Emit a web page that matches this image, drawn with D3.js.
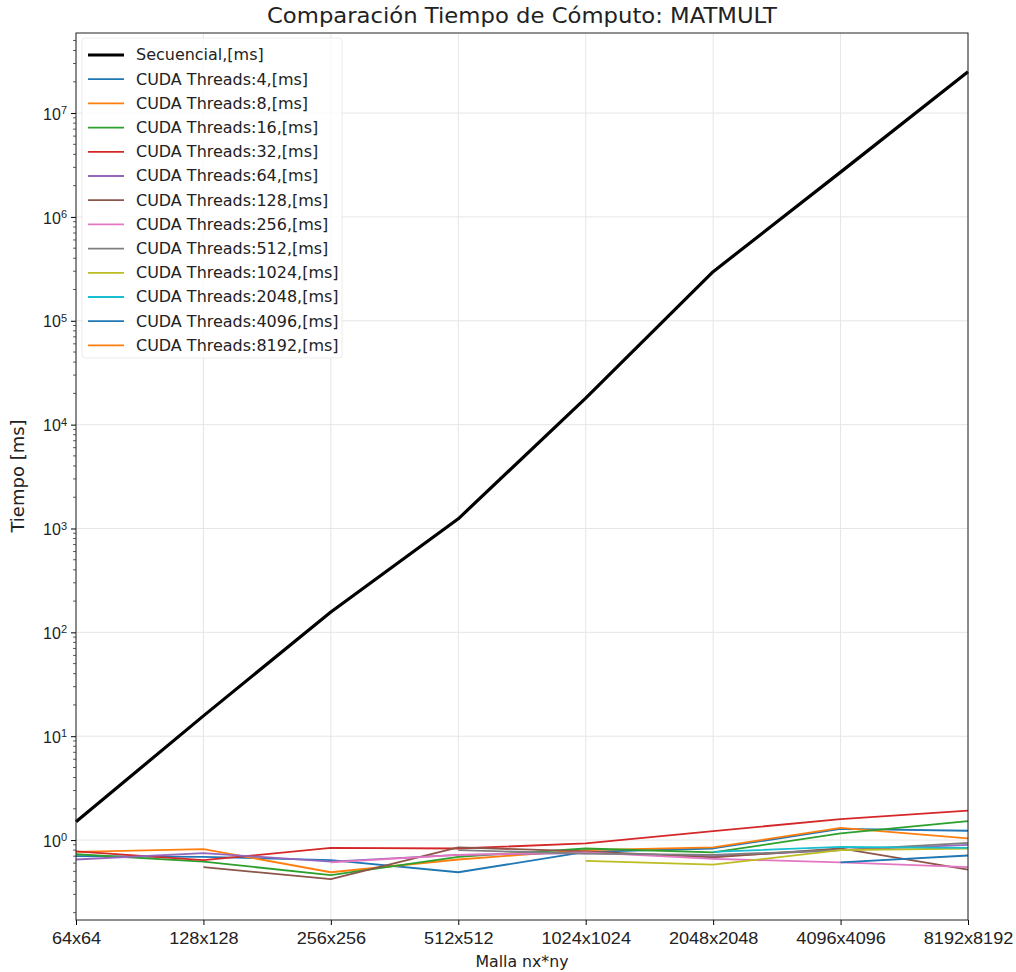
<!DOCTYPE html>
<html>
<head>
<meta charset="utf-8">
<script src="https://cdn.jsdelivr.net/npm/d3@7"></script>
<style>
  body { margin: 0; background: #fff; }
  svg { font-family: "DejaVu Sans", sans-serif; }
</style>
</head>
<body>
<svg id="chart" width="1016" height="972"></svg>
<script>
const categories = ["64x64", "128x128", "256x256", "512x512", "1024x1024", "2048x2048", "4096x4096", "8192x8192"];

const secuencial = [1.5, 15.7, 157, 1240, 18000, 297000, 2700000, 25000000];
const cuda4 = [0.70, 0.69, 0.64, 0.49, 0.77, 0.83, 1.28, 1.23];
const cuda8 = [0.77, 0.82, 0.49, 0.65, 0.80, 0.85, 1.31, 1.04];
const cuda16 = [0.73, 0.62, 0.46, 0.69, 0.83, 0.76, 1.16, 1.52];
const cuda32 = [0.78, 0.64, 0.84, 0.83, 0.93, 1.22, 1.59, 1.92];
const cuda64 = [0.65, 0.75, 0.62, 0.72, 0.75, 0.70, 0.80, 0.90];
const cuda128 = [null, 0.55, 0.42, 0.85, 0.78, 0.68, 0.83, 0.52];
const cuda256 = [null, null, 0.61, 0.72, 0.76, 0.66, 0.61, 0.55];
const cuda512 = [null, null, null, 0.80, 0.74, 0.72, 0.80, 0.94];
const cuda1024 = [null, null, null, null, 0.63, 0.58, 0.80, 0.83];
const cuda2048 = [null, null, null, null, null, 0.77, 0.86, 0.84];
const cuda4096 = [null, null, null, null, null, null, 0.61, 0.71];
const cuda8192 = [null, null, null, null, null, null, null, 1.0];

const seriesNames = ["Secuencial,[ms]", "CUDA Threads:4,[ms]", "CUDA Threads:8,[ms]", "CUDA Threads:16,[ms]",
  "CUDA Threads:32,[ms]", "CUDA Threads:64,[ms]", "CUDA Threads:128,[ms]", "CUDA Threads:256,[ms]",
  "CUDA Threads:512,[ms]", "CUDA Threads:1024,[ms]", "CUDA Threads:2048,[ms]", "CUDA Threads:4096,[ms]",
  "CUDA Threads:8192,[ms]"];
const seriesValues = [secuencial, cuda4, cuda8, cuda16, cuda32, cuda64, cuda128, cuda256,
  cuda512, cuda1024, cuda2048, cuda4096, cuda8192];
const seriesColors = ["#000000", "#1f77b4", "#ff7f0e", "#2ca02c", "#d62728", "#9467bd", "#8c564b",
  "#e377c2", "#7f7f7f", "#bcbd22", "#17becf", "#1f77b4", "#ff7f0e"];

const yDomain = [0.17, 5.9e7];
const yTickExps = [0, 1, 2, 3, 4, 5, 6, 7];

const svg = d3.select("#chart");
const margin = { left: 76, right: 48, top: 33, bottom: 52 };
const W = 1016, H = 972;
const iw = W - margin.left - margin.right;
const ih = H - margin.top - margin.bottom;

// the reference picture is a bit wider than tall, so text gets stretched sideways
function stretch(sel, k) {
  sel.each(function() {
    const len = this.getComputedTextLength();
    this.setAttribute("textLength", len * k);
    this.setAttribute("lengthAdjust", "spacingAndGlyphs");
  });
}

const x = d3.scalePoint().domain(categories).range([0, iw]);
const y = d3.scaleLog().domain(yDomain).range([ih, 0]);

const g = svg.append("g").attr("transform", `translate(${margin.left},${margin.top})`);

// grid
g.append("g").selectAll("line").data(categories).join("line")
  .attr("x1", d => x(d)).attr("x2", d => x(d)).attr("y1", 0).attr("y2", ih)
  .attr("stroke", "#e6e6e6").attr("stroke-width", 1);
g.append("g").selectAll("line").data(yTickExps).join("line")
  .attr("x1", 0).attr("x2", iw).attr("y1", d => y(10 ** d)).attr("y2", d => y(10 ** d))
  .attr("stroke", "#e6e6e6").attr("stroke-width", 1);

// lines
const line = d3.line()
  .defined(d => d.v != null)
  .x(d => x(d.c)).y(d => y(d.v));

seriesValues.forEach((vals, i) => {
  const pts = vals.map((v, j) => ({ c: categories[j], v }));
  g.append("path").datum(pts)
    .attr("fill", "none")
    .attr("stroke", seriesColors[i])
    .attr("stroke-width", i === 0 ? 3.2 : 1.8)
    .attr("stroke-linejoin", "round")
    .attr("d", line);
});

// axes
const xAxis = d3.axisBottom(x).tickSize(5).tickPadding(8);
const gx = g.append("g").attr("transform", `translate(0,${ih})`).call(xAxis);
gx.selectAll("text").attr("font-size", 16).attr("fill", "#222").call(stretch, 1.13);

const minorTicks = [];
for (let e = -1; e <= 7; e++) {
  for (let k = 2; k <= 9; k++) {
    const v = k * 10 ** e;
    if (v >= yDomain[0] && v <= yDomain[1]) minorTicks.push(v);
  }
}
g.append("g").selectAll("line").data(minorTicks).join("line")
  .attr("x1", -3).attr("x2", 0).attr("y1", d => y(d)).attr("y2", d => y(d))
  .attr("stroke", "#333").attr("stroke-width", 0.8);

const yAxis = d3.axisLeft(y).tickValues(yTickExps.map(e => 10 ** e)).tickSize(5).tickFormat("");
const gy = g.append("g").call(yAxis);
gy.selectAll(".tick").each(function(d) {
  const t = d3.select(this).append("text")
    .attr("x", -9).attr("dy", "0.38em").attr("text-anchor", "end")
    .attr("font-size", 16).attr("fill", "#222");
  t.append("tspan").text("10");
  t.append("tspan").attr("dy", "-0.5em").attr("font-size", 11).text(Math.round(Math.log10(d)));
});
[gx, gy].forEach(a => a.select(".domain").remove());

// frame
g.append("rect").attr("width", iw).attr("height", ih)
  .attr("fill", "none").attr("stroke", "#222").attr("stroke-width", 1);

// legend
const legend = g.append("g").attr("transform", "translate(6,5)");
legend.append("rect").attr("width", 260).attr("height", 320).attr("rx", 3)
  .attr("fill", "#fff").attr("fill-opacity", 0.8).attr("stroke", "#ececec");
seriesNames.forEach((name, i) => {
  const yy = 17 + i * 24.2;
  legend.append("line").attr("x1", 6).attr("x2", 42).attr("y1", yy).attr("y2", yy)
    .attr("stroke", seriesColors[i]).attr("stroke-width", i === 0 ? 3.2 : 1.8);
  legend.append("text").attr("x", 54).attr("y", yy).attr("dy", "0.36em")
    .attr("font-size", 15).attr("fill", "#222").text(name).call(stretch, 1.065);
});

// titles
svg.append("text").attr("x", margin.left + iw / 2).attr("y", 23).attr("text-anchor", "middle")
  .attr("font-size", 21).attr("fill", "#222").text("Comparación Tiempo de Cómputo: MATMULT")
  .attr("textLength", 510).attr("lengthAdjust", "spacingAndGlyphs");
svg.append("text").attr("x", margin.left + iw / 2).attr("y", 967).attr("text-anchor", "middle")
  .attr("font-size", 15).attr("fill", "#222").text("Malla nx*ny").call(stretch, 1.05);
svg.append("text").attr("transform", "translate(24,476) rotate(-90)")
  .attr("text-anchor", "middle").attr("font-size", 18).attr("fill", "#222").text("Tiempo [ms]");
</script>
</body>
</html>
